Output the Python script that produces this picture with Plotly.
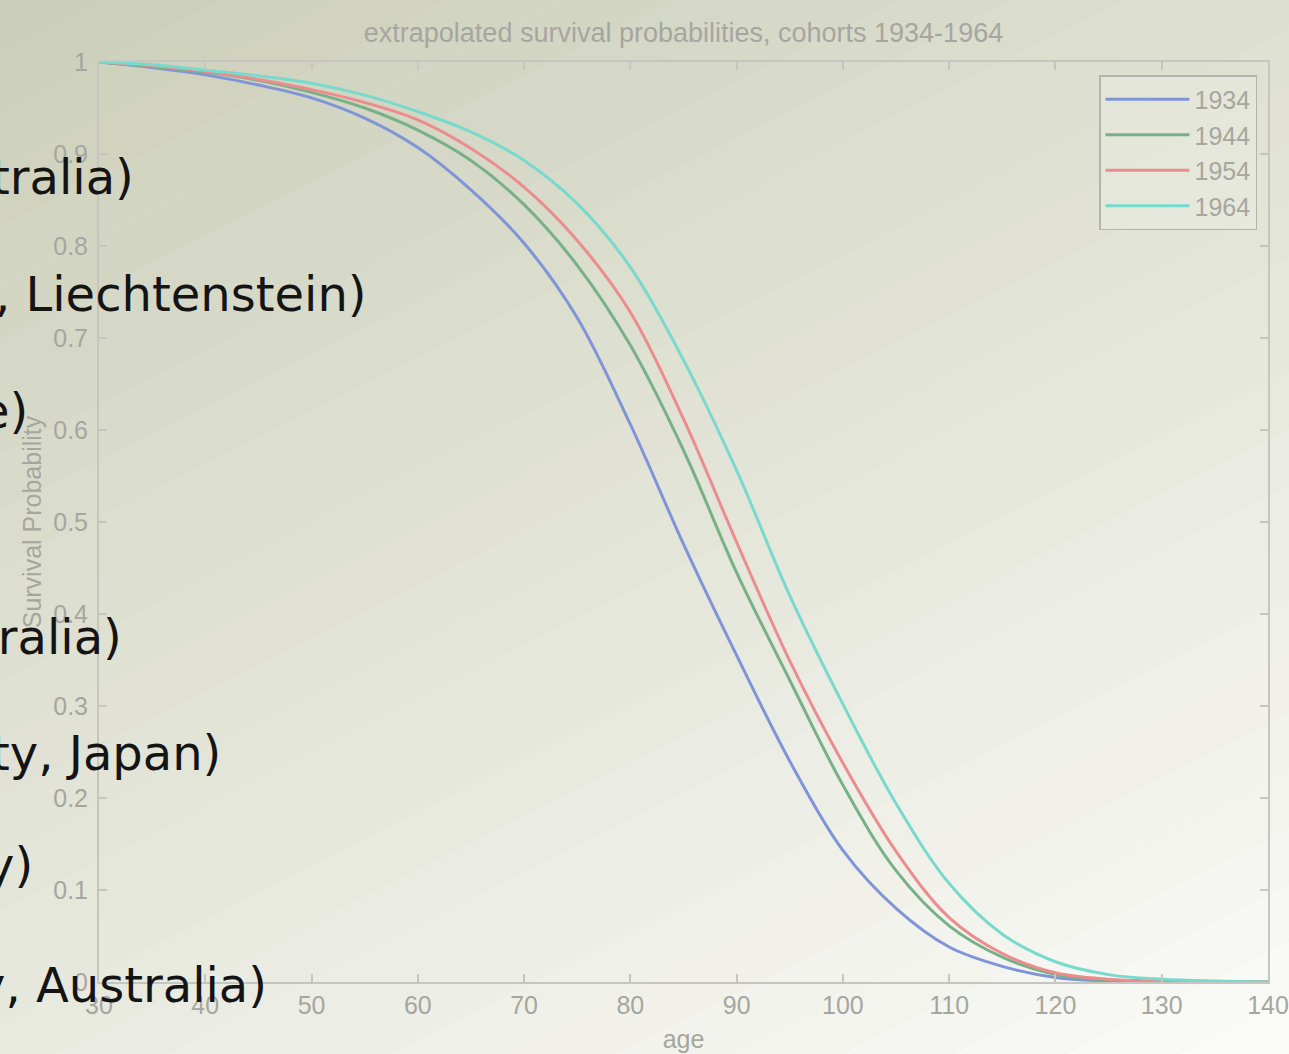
import plotly.graph_objects as go

# ---------------- data ----------------
ages = [30, 35, 40, 45, 50, 55, 60, 65, 70, 75, 80, 85, 90, 95, 100,
        105, 110, 115, 120, 125, 130, 135, 140]

s1934 = [1.000, 0.994, 0.986, 0.975, 0.961, 0.939, 0.907, 0.861, 0.803, 0.722,
         0.606, 0.476, 0.355, 0.240, 0.143, 0.080, 0.038, 0.017, 0.005, 0.001,
         0.000, 0.000, 0.000]
s1944 = [1.000, 0.995, 0.989, 0.980, 0.967, 0.950, 0.926, 0.893, 0.845, 0.779,
         0.692, 0.578, 0.445, 0.328, 0.214, 0.121, 0.061, 0.027, 0.008, 0.002,
         0.000, 0.000, 0.000]
s1954 = [1.000, 0.996, 0.990, 0.981, 0.970, 0.956, 0.937, 0.906, 0.864, 0.806,
         0.728, 0.612, 0.478, 0.349, 0.238, 0.142, 0.070, 0.031, 0.010, 0.003,
         0.001, 0.000, 0.000]
s1964 = [1.000, 0.997, 0.991, 0.985, 0.977, 0.964, 0.946, 0.924, 0.893, 0.846,
         0.777, 0.676, 0.556, 0.420, 0.302, 0.194, 0.107, 0.052, 0.022, 0.008,
         0.003, 0.001, 0.000]

cohorts = ["1934", "1944", "1954", "1964"]
series = [s1934, s1944, s1954, s1964]
colors = ["#8094d8", "#78b088", "#ec8c8e", "#78d9cd"]

x_ticks = [30, 40, 50, 60, 70, 80, 90, 100, 110, 120, 130, 140]
y_ticks = [0, 0.1, 0.2, 0.3, 0.4, 0.5, 0.6, 0.7, 0.8, 0.9, 1]

title_text = "extrapolated survival probabilities, cohorts 1934-1964"
x_title = "age"
y_title = "Survival Probability"

# slide text lying over the chart (visible parts only)
overlay_texts = ["tralia)", ", Liechtenstein)", "e)", "tralia)",
                 "ty, Japan)", "y)", "y, Australia)"]
overlay_right_px = [136, 369, 30, 124, 223, 35, 269]
overlay_mid_px = [177, 294, 411, 637, 753, 865, 985]

# ---------------- geometry ----------------
W, H = 1289, 1054
L, R, T, B = 99, 21, 62, 72
PW, PH = W - L - R, H - T - B


def px2paper(px, py):
    return (px - L) / PW, (H - B - py) / PH


fig = go.Figure()

for name, ys, c in zip(cohorts, series, colors):
    fig.add_trace(go.Scatter(
        x=ages, y=ys, name=name, mode="lines",
        line=dict(color=c, width=3, shape="spline", smoothing=1.0),
    ))

# ---------------- background gradient (decorative) ----------------
shapes = []
a, b = 0.45, 0.89
tmax = a * W + b * H
c0 = (203, 206, 184)
c1 = (251, 251, 248)
N = 30
for k in range(N):
    t0 = tmax * k / N
    t1 = tmax * (k + 1) / N
    if k == 0:
        t0 = -600
    if k == N - 1:
        t1 = tmax + 600
    f = (k + 0.5) / N
    col = tuple(int(round(c0[i] + (c1[i] - c0[i]) * f)) for i in range(3))
    xl, xr = -100, W + 100
    pts = [(xl, (t0 - a * xl) / b), (xr, (t0 - a * xr) / b),
           (xr, (t1 - a * xr) / b), (xl, (t1 - a * xl) / b)]
    pp = [px2paper(*p) for p in pts]
    path = "M{:.4f},{:.4f} L{:.4f},{:.4f} L{:.4f},{:.4f} L{:.4f},{:.4f} Z".format(
        *[v for p in pp for v in p])
    shapes.append(dict(type="path", path=path, xref="paper", yref="paper",
                       fillcolor="rgb({},{},{})".format(*col),
                       line=dict(width=0), layer="below"))

annotations = []
for txt, rx, my in zip(overlay_texts, overlay_right_px, overlay_mid_px):
    px, py = px2paper(rx, my)
    annotations.append(dict(text=txt, x=px, y=py, xref="paper", yref="paper",
                            xanchor="right", yanchor="middle", showarrow=False,
                            font=dict(family="DejaVu Sans", size=48, color="#141414")))

grey = "#a6a6a0"
axis_col = "#c6c6c1"
tick_font = dict(family="Liberation Sans, Arial, sans-serif", size=25, color=grey)

fig.update_layout(
    width=W, height=H,
    margin=dict(l=L, r=R, t=T, b=B, pad=0, autoexpand=False),
    paper_bgcolor="rgb(228,230,216)",
    plot_bgcolor="rgba(0,0,0,0)",
    shapes=shapes,
    annotations=annotations,
    title=dict(text=title_text, x=(683.5) / W, xref="container", xanchor="center",
               y=1 - 33 / H, yref="container", yanchor="middle",
               font=dict(family="Liberation Sans, Arial, sans-serif", size=27, color=grey)),
    xaxis=dict(range=[30, 140], tickvals=x_ticks, ticks="inside", ticklen=8,
               tickwidth=1.5, tickcolor=axis_col, showline=True, linecolor=axis_col,
               linewidth=2, mirror="ticks", showgrid=False, zeroline=False,
               tickfont=tick_font, ticklabelstandoff=0, automargin=False,
               title=dict(text=x_title, font=tick_font, standoff=12)),
    yaxis=dict(range=[0, 1], tickvals=y_ticks, ticks="inside", ticklen=8,
               tickwidth=1.5, tickcolor=axis_col, showline=True, linecolor=axis_col,
               linewidth=2, mirror="ticks", showgrid=False, zeroline=False,
               tickfont=tick_font, ticklabelstandoff=4, automargin=False,
               title=dict(text=y_title, font=tick_font, standoff=4)),
    legend=dict(x=(1257 - L) / PW, xanchor="right", y=(H - B - 75) / PH, yanchor="top",
                bgcolor="rgba(240,241,232,0.35)", bordercolor="#b4b4ae", borderwidth=1.5,
                font=dict(family="Liberation Sans, Arial, sans-serif", size=25, color=grey),
                itemwidth=84, tracegroupgap=0),
    showlegend=True,
)

fig.write_html("out.html", config={"displayModeBar": False},
               post_script="document.body.style.margin='0';document.body.style.overflow='hidden';")
